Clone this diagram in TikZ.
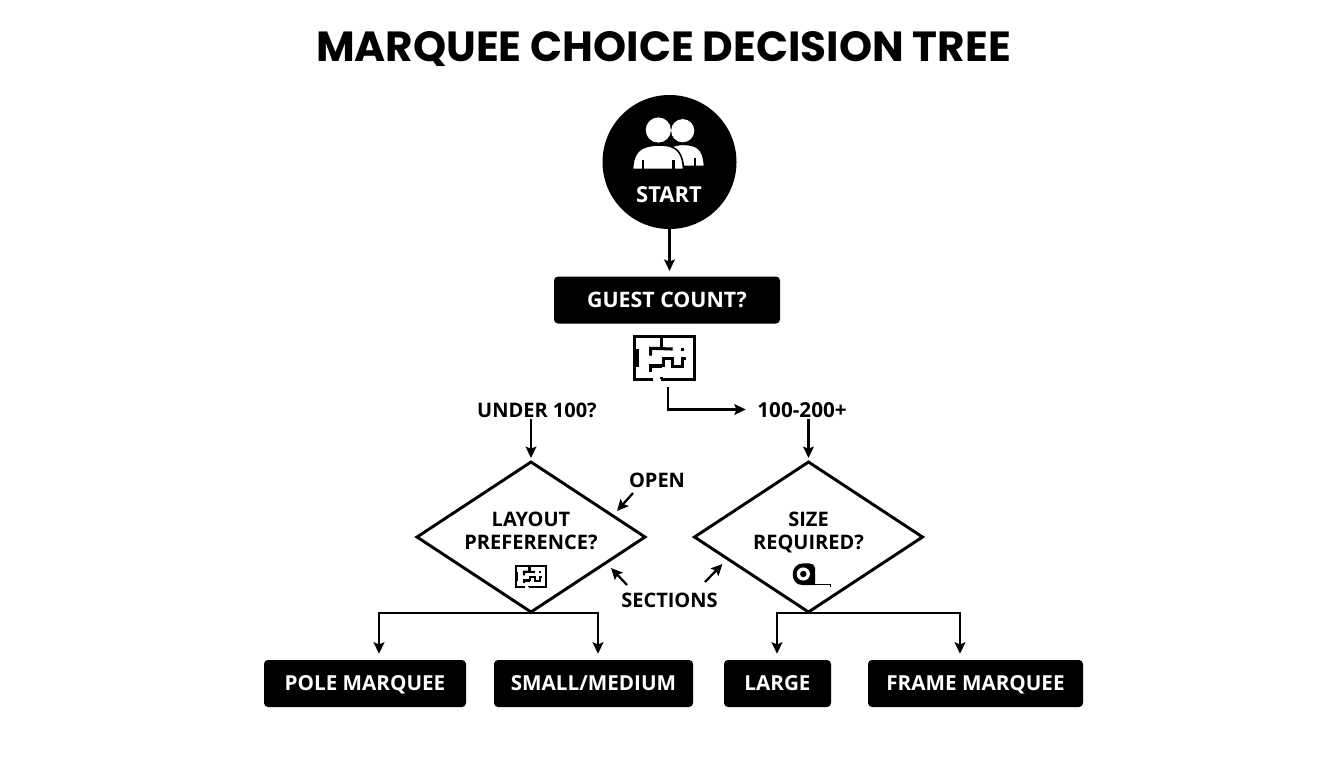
\documentclass[tikz,border=0pt]{standalone}
\usepackage{fontspec}
\setmainfont{Open Sans}[BoldFont=* Bold]
\newfontfamily\titlefont{Poppins}[BoldFont=* Bold]
\usetikzlibrary{arrows.meta,shapes.geometric}
\definecolor{ink}{HTML}{000000}
\tikzset{
 arr/.style={draw=ink,line width=1.7pt,-{Stealth[length=8.5pt,width=8pt,inset=1.5pt]}},
 blackbox/.style={rectangle,rounded corners=3pt,fill=ink,text=white,font=\bfseries\fontsize{15.5}{18}\selectfont,inner sep=0pt,minimum height=35.25pt,anchor=center,text height=11.2pt,text depth=0pt},
 label/.style={text=ink,font=\bfseries\fontsize{15}{18}\selectfont,inner sep=1pt,text height=11pt,text depth=0pt},
 dia/.style={shape=diamond,draw=ink,line width=2.2pt,inner sep=0pt,outer sep=0pt,minimum width=171pt,minimum height=112.5pt}
}
% floor plan: drawn in reference pixels around the top-left corner, scaled
\newcommand{\planicon}[4]{%
 \begin{scope}[shift={(#1,#2)},x=#3*0.75pt,y=-#3*0.75pt,line width=#4,draw=ink,fill=ink]
  \draw (1.5,1.5) rectangle (61.8,44.2);
  \fill (0,14) rectangle (6.6,31.7);
  \draw[white,line width=#4*1.2] (20.5,44.2) -- (28,44.2);
  \draw (29,3) -- (29,12);
  \draw (18,20.7) -- (18,13.3) -- (40,14);
  \fill (48,12.8) rectangle (51.2,16);
  \draw (18,36.7) -- (18,31) -- (29.6,31);
  \draw (30.6,31.7) -- (30.6,23.3) -- (40,23.3) -- (40,31.7) -- (49.6,31.7) -- (49.6,23.3) -- (53.3,23.3);
  \draw (29,41.7) -- (29,44.2);
 \end{scope}}
\begin{document}
\begin{tikzpicture}[x=0.75pt,y=-0.75pt]
\useasboundingbox (0,0) rectangle (1344,768);
\fill[white] (0,0) rectangle (1344,768);
\node[text=ink,inner sep=0pt] (title) at (663.5,49) {\titlefont\bfseries\fontsize{31.6}{38}\selectfont MARQUEE CHOICE DECISION TREE};

\node[circle,fill=ink,minimum size=100.5pt,inner sep=0pt,outer sep=0pt] (start) at (669.5,162) {};
% people icon
\fill[white] (682.7,130.7) circle (11.6);
\fill[white,draw=ink,line width=1.2pt] (670,147) .. controls (680,143.5) and (686,143.5) .. (694,146) .. controls (701,148.5) and (704,155) .. (704.5,166.5) -- (672,166.5) -- cycle;
\fill[ink] (694.2,158) rectangle (696.4,167);
\fill[white] (658.3,130) circle (12.6);
\fill[white,draw=ink,line width=1.2pt] (632.5,169.5) .. controls (633,155) and (638,149) .. (647,146.5) .. controls (654,144.5) and (664,144.5) .. (671,146.5) .. controls (678,149) and (683,155) .. (683.5,169.5) -- cycle;
\fill[ink] (641.5,160) rectangle (643.8,170);
\fill[ink] (672.3,160) rectangle (674.6,170);
\node[text=white,font=\bfseries\fontsize{16.5}{20}\selectfont,inner sep=0pt] (starttext) at (669,195) {START};

\node[blackbox,minimum width=169.5pt,font=\bfseries\fontsize{16}{18}\selectfont] (guest) at (667,300) {GUEST COUNT?};
\draw[arr,shorten >=4pt] (start) -- (start |- guest.north);

\node[minimum width=47.5pt,minimum height=34.3pt,inner sep=0pt,outer sep=0pt] (plana) at (664.4,358) {};
\planicon{632.7}{335}{1}{2.3pt}

\node[label] (under) at (537,410) {UNDER 100?};
\node[label,font=\bfseries\fontsize{15.5}{18}\selectfont] (over) at (802,410) {100-200+};
\coordinate (planb) at (668,409.5);
\draw[arr,shorten >=7.5pt] (668,387) -- (planb) -- (over.west |- planb);

\node[dia] (dl) at (531,537) {};
\node[dia] (dr) at (808.5,537) {};
\node[label] (t1) at (531,519.5) {LAYOUT};
\node[label] (t2) at (531,542.5) {PREFERENCE?};
\node[label] (t3) at (808.5,519.5) {SIZE};
\node[label] (t4) at (808.5,542.5) {REQUIRED?};
\draw[arr,shorten >=3pt] (under.south -| dl.north) -- (dl.north);
\draw[arr,shorten >=3pt] (over.south -| dr.north) -- (dr.north);

\planicon{515}{565}{0.5}{1.6pt}
% tape measure
\fill[ink] (803.5,563.3) .. controls (797,563.3) and (792.7,568) .. (792.7,574) .. controls (792.7,580) and (796,585) .. (802,585) -- (815,585) -- (815,568) .. controls (815,565) and (812,563.3) .. (809,563.3) -- cycle;
\fill[white] (803.3,574) circle (6.6);
\fill[ink] (803.3,574) circle (3.2);
\draw[ink,line width=0.7pt] (815,584) -- (830,584) -- (830,586.8);

\node[label] (open) at (657,480.5) {OPEN};
\node[label] (sect) at (669.5,600) {SECTIONS};
\coordinate (oa) at (617,511);
\coordinate (sa) at (611,568);
\coordinate (sb) at (722.5,564);
\draw[arr] (633,493) -- (oa);
\draw[arr] (627,585) -- (sa);
\draw[arr] (705,582) -- (sb);

\node[blackbox,minimum width=151.5pt] (pole) at (365,683.5) {POLE MARQUEE};
\node[blackbox,minimum width=149.25pt] (small) at (593.5,683.5) {SMALL/MEDIUM};
\node[blackbox,minimum width=80.25pt] (large) at (777.5,683.5) {LARGE};
\node[blackbox,minimum width=161.25pt] (frame) at (975.5,683.5) {FRAME MARQUEE};

\coordinate (ja) at (379,613);
\coordinate (jb) at (598,613);
\coordinate (jc) at (777,613);
\coordinate (jd) at (960,613);
\draw[arr,shorten >=4.5pt] (ja -| dl.south) -- (ja) -- (ja |- pole.north);
\draw[arr,shorten >=4.5pt] (jb -| dl.south) -- (jb) -- (jb |- small.north);
\draw[arr,shorten >=4.5pt] (jc -| dr.south) -- (jc) -- (jc |- large.north);
\draw[arr,shorten >=4.5pt] (jd -| dr.south) -- (jd) -- (jd |- frame.north);
\end{tikzpicture}
\end{document}
